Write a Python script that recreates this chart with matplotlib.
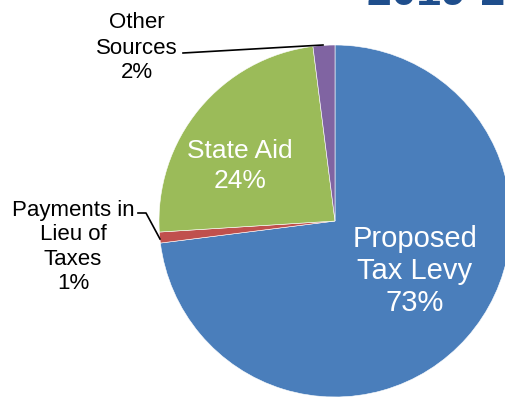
import matplotlib
matplotlib.use('Agg')
import matplotlib.pyplot as plt

# revenue shares, clockwise from 12 o'clock
labels = ['Proposed\nTax Levy', 'Payments in\nLieu of\nTaxes', 'State Aid', 'Other\nSources']
shares = [73, 1, 24, 2]
colors = ['#4A7EBB', '#C0504D', '#9BBB59', '#8064A2']

plt.rcParams['font.family'] = ['Liberation Sans', 'DejaVu Sans']

fig = plt.figure(figsize=(5.06, 4.0), dpi=100)
ax = fig.add_axes([0, 0, 1, 1])

# pie in pixel-like coordinates (y up)
wedges, _ = ax.pie(shares, colors=colors, startangle=90, counterclock=False,
                   center=(335, 179), radius=176,
                   wedgeprops={'linewidth': 0.4, 'edgecolor': 'white'})
ax.set_xlim(0, 506)
ax.set_ylim(0, 400)
ax.set_aspect('equal')
ax.axis('off')

# labels inside
ax.text(415, 129, labels[0] + '\n%d%%' % shares[0], color='white', fontsize=21,
        ha='center', va='center', linespacing=1.17)
ax.text(240, 234, labels[2] + '\n%d%%' % shares[2], color='white', fontsize=19,
        ha='center', va='center', linespacing=1.3)

# labels outside with leader lines
ax.text(137, 352, labels[3] + '\n%d%%' % shares[3], color='black', fontsize=16,
        ha='center', va='center', linespacing=1.25)
ax.plot([183, 323], [347, 355], color='black', lw=1.2)

ax.text(73, 153, labels[1] + '\n%d%%' % shares[1], color='black', fontsize=16,
        ha='center', va='center', linespacing=1.2)
ax.plot([138, 146, 160], [187, 187, 161], color='black', lw=1.2)

# title, mostly cut off at the top of the frame
ax.text(367, 395, '2019-20 Revenues', color='#1F4E8C', fontsize=32,
        fontweight='bold', ha='left', va='baseline')

plt.savefig('out.png', dpi=100)
plt.close()
